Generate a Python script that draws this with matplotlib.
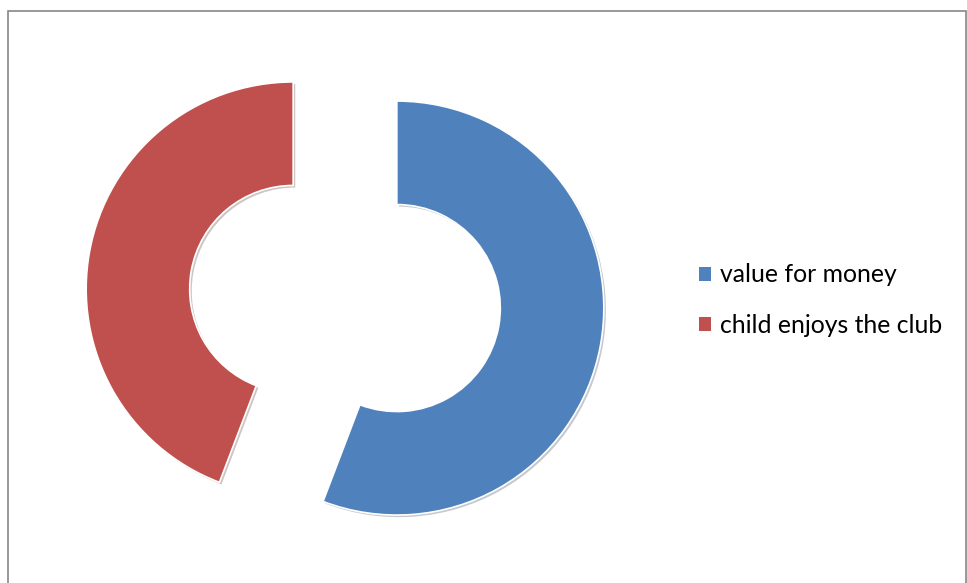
"""Exploded donut chart: what parents value about the club."""
import matplotlib
matplotlib.use("Agg")
import matplotlib.pyplot as plt
import matplotlib.patheffects as pe
from matplotlib.patches import Patch, Rectangle

LABELS = ["value for money", "child enjoys the club"]
SHARES = [55.8, 44.2]
COLORS = ["#4F81BD", "#C0504D"]

W, H = 967, 583
fig = plt.figure(figsize=(W / 100, H / 100), dpi=100)
ax = fig.add_axes([0, 0, 1, 1])

# donut centre and size in pixel units (y measured upward)
cx, cy, r = 345, H - 298.5, 207
wedges, _ = ax.pie(SHARES, colors=COLORS, startangle=90, counterclock=False,
                   center=(cx, cy), radius=r, explode=[52.7, 52.7],
                   wedgeprops=dict(width=r * 0.5, edgecolor="white", linewidth=1.2))
for w in wedges:
    w.set_path_effects([pe.SimplePatchShadow(offset=(1.5, -1.5), alpha=0.25),
                        pe.Normal()])

ax.set_xlim(0, W)
ax.set_ylim(0, H)
ax.set_aspect("auto")
ax.axis("off")

# outer chart frame (bottom edge runs off the image)
fig.patches.append(Rectangle((7.5 / W, -0.05), (966 - 7.5) / W, (H - 10.5) / H + 0.05,
                             transform=fig.transFigure, fill=False,
                             edgecolor="#868686", linewidth=1.2))

handles = [Patch(facecolor=c, edgecolor="none") for c in COLORS]
ax.legend(handles, LABELS, loc="center left", bbox_to_anchor=(699 / W, 1 - 300 / H),
          frameon=False, prop={"family": "Lato", "size": 17.8},
          handlelength=0.5, handleheight=0.5, handletextpad=0.33,
          labelspacing=1.1, borderpad=0, borderaxespad=0)

fig.savefig("out.png", dpi=100)
